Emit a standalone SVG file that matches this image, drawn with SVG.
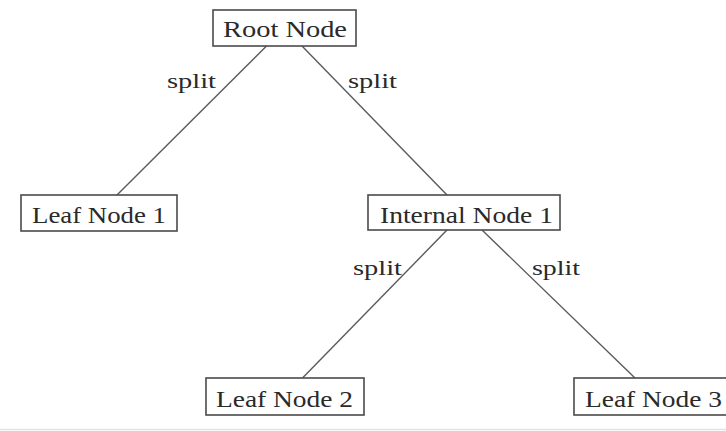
<svg xmlns="http://www.w3.org/2000/svg" width="726" height="431" viewBox="0 0 726 431">
  <style>
    .box { fill: #ffffff; stroke: #4a4a4a; stroke-width: 1.6; }
    .lbl { font-family: "Liberation Serif", "DejaVu Serif", serif; font-size: 24px; fill: #2a2a2a; }
    .edge { stroke: #5a5a5a; stroke-width: 1.4; fill: none; }
    .elbl { font-family: "Liberation Serif", "DejaVu Serif", serif; font-size: 22px; fill: #2a2a2a; }
  </style>
  <rect width="726" height="431" fill="#ffffff"/>

  <!-- edges between node centres, trimmed at box borders -->
  <g id="connectors">
    <line class="edge" x1="266.5" y1="46" x2="117" y2="195"/>
    <line class="edge" x1="302" y1="46" x2="447" y2="195"/>
    <line class="edge" x1="447" y1="230" x2="302.5" y2="378"/>
    <line class="edge" x1="482" y1="230" x2="635" y2="378"/>
    <text class="elbl" x="167" y="88" textLength="49" lengthAdjust="spacingAndGlyphs">split</text>
    <text class="elbl" x="348" y="88" textLength="49" lengthAdjust="spacingAndGlyphs">split</text>
    <text class="elbl" x="353" y="275" textLength="49" lengthAdjust="spacingAndGlyphs">split</text>
    <text class="elbl" x="532" y="275" textLength="48" lengthAdjust="spacingAndGlyphs">split</text>
  </g>

  <g id="root">
    <rect class="box" x="213" y="10" width="143" height="36"/>
    <text class="lbl" x="223" y="37" textLength="124" lengthAdjust="spacingAndGlyphs">Root Node</text>
  </g>
  <g id="leaf1">
    <rect class="box" x="21" y="195" width="156" height="36"/>
    <text class="lbl" x="32" y="223" textLength="134" lengthAdjust="spacingAndGlyphs">Leaf Node 1</text>
  </g>
  <g id="internal1">
    <rect class="box" x="368" y="195" width="192" height="35"/>
    <text class="lbl" x="380" y="223" textLength="173" lengthAdjust="spacingAndGlyphs">Internal Node 1</text>
  </g>
  <g id="leaf2">
    <rect class="box" x="206" y="378" width="158" height="37"/>
    <text class="lbl" x="216" y="407" textLength="137" lengthAdjust="spacingAndGlyphs">Leaf Node 2</text>
  </g>
  <g id="leaf3">
    <rect class="box" x="574" y="378" width="160" height="37"/>
    <text class="lbl" x="585" y="407" textLength="137" lengthAdjust="spacingAndGlyphs">Leaf Node 3</text>
  </g>

  <line x1="0" y1="429.5" x2="726" y2="429.5" stroke="#e2e2e2" stroke-width="1.5"/>
</svg>
